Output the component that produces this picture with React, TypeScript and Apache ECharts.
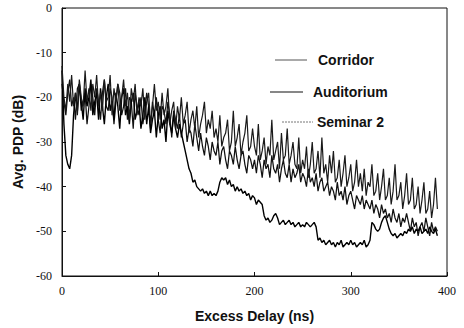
import React, { useEffect, useRef } from "react";
import * as echarts from "echarts";

// Sampling step of the delay axis (ns)
const DELAY_STEP_NS = 2;

const corridor = [
  -17, -21, -24, -19, -16, -22, -20, -25, -18, -17, -23, -21, -19, -26, -22, -17, -20, -24, -18, -21,
  -25, -19, -16, -22, -23, -18, -20, -26, -21, -17, -19, -24, -22, -18, -25, -20, -21, -27, -19, -22,
  -24, -20, -26, -23, -19, -22, -27, -21, -24, -20, -25, -28, -22, -23, -26, -21, -24, -29, -23, -25,
  -27, -24, -29, -26, -25, -30, -27, -28, -31, -26, -29, -32, -28, -31, -33, -29, -31, -34, -30, -32,
  -33, -30, -35, -32, -31, -34, -36, -32, -33, -35, -31, -34, -36, -33, -32, -35, -37, -33, -34, -36,
  -34, -37, -33, -35, -38, -34, -36, -35, -38, -33, -36, -37, -35, -39, -36, -34, -37, -38, -35, -39,
  -36, -38, -37, -35, -39, -37, -38, -40, -36, -39, -38, -40, -37, -41, -39, -38, -41, -40, -39, -42,
  -40, -41, -43, -39, -42, -41, -43, -40, -44, -42, -41, -43, -45, -42, -43, -44, -42, -45, -43, -44,
  -45, -43, -46, -44, -45, -47, -44, -46, -45, -47, -46, -48, -45, -47, -48, -46, -49, -47, -48, -46,
  -48, -50, -47, -49, -48, -51, -49, -48, -50, -47, -49, -51, -48, -50, -49, -50,
];

const auditorium = [
  -14, -26, -33, -35, -36, -33, -24, -19, -23, -17, -21, -25, -18, -22, -20, -16, -24, -21, -19, -25,
  -18, -22, -26, -20, -17, -23, -21, -25, -19, -22, -27, -20, -18, -24, -22, -26, -21, -19, -25, -23,
  -21, -27, -24, -20, -26, -22, -28, -25, -23, -29, -24, -22, -27, -25, -30, -23, -26, -28, -24, -27,
  -29, -26, -28, -30, -32, -34, -36, -37, -39, -38.5, -40, -40.5, -41, -40.5, -41.5, -41, -42, -41, -42, -41.5,
  -42, -41, -39, -38, -38.5, -38, -39.5, -38.5, -40, -39.5, -41, -40, -41, -40.5, -41.5, -41, -42, -41.5, -43, -42,
  -42.5, -44, -43, -43.5, -44, -46.5, -47.5, -47, -48, -47.5, -46.5, -46, -47, -48.5, -48, -47.5, -48.5, -48, -47.5, -48.5,
  -48, -49, -48.5, -48, -49, -48.5, -49, -48, -48.5, -49, -48.5, -48, -49, -52, -51.5, -52.5, -52, -53, -52.5, -52,
  -53, -52.5, -53.5, -52.5, -53, -52, -53.5, -53, -52.5, -53, -52, -53, -52.5, -53.5, -53, -52.5, -53, -52, -53.5, -53,
  -52, -48, -48.5, -49.5, -50, -49.5, -48, -47, -46.5, -48, -49.5, -50.5, -51, -50.5, -51.5, -51, -50.5, -51, -50, -50.5,
  -49.5, -50, -49, -50.5, -49.5, -50, -49, -50.5, -50, -49.5, -50.5, -49, -50, -50.5, -49.5, -51,
];

const seminar2 = [
  -13, -20, -23, -17, -21, -15, -22, -19, -24, -16, -20, -22, -14, -21, -18, -23, -17, -20, -15, -22,
  -19, -23, -16, -21, -20, -15, -24, -18, -21, -17, -23, -20, -16, -22, -19, -25, -18, -21, -17, -24,
  -20, -22, -18, -25, -21, -19, -26, -22, -17, -23, -21, -25, -19, -24, -22, -18, -26, -23, -21, -27,
  -22, -25, -20, -26, -24, -21, -28, -25, -23, -27, -22, -29, -26, -24, -21, -28, -25, -27, -23, -29,
  -27, -30, -24, -31, -29, -28, -25, -32, -30, -23, -31, -29, -26, -33, -30, -28, -24, -32, -31, -27,
  -31, -33, -26, -34, -32, -29, -35, -31, -33, -25, -34, -32, -30, -36, -28, -34, -33, -27, -35, -33,
  -30, -35, -36, -29, -37, -34, -36, -31, -38, -35, -30, -37, -36, -32, -38, -29, -37, -35, -39, -33,
  -37, -32, -39, -38, -34, -40, -37, -33, -40, -38, -35, -41, -39, -34, -40, -37, -41, -36, -42, -39,
  -40, -35, -42, -41, -37, -43, -40, -36, -43, -42, -38, -44, -41, -35, -43, -42, -39, -45, -42, -37,
  -44, -43, -38, -45, -44, -40, -46, -43, -39, -46, -45, -41, -47, -44, -38, -45,
];

const seriesNames = ["Corridor", "Auditorium", "Seminar 2"];
const xTicks = { min: 0, max: 400, interval: 100 };
const yTicks = { min: -60, max: 0, interval: 10 };

const toPairs = (vals: number[]) => vals.map((v, i) => [i * DELAY_STEP_NS, v]);

export default function App() {
  const ref = useRef<HTMLDivElement>(null);
  useEffect(() => {
    if (!ref.current) return;
    const chart = echarts.init(ref.current, null, { renderer: "svg" });
    const tickFont = { fontFamily: "'Liberation Serif', 'Times New Roman', serif", fontSize: 12, color: "#111" };
    const titleFont = { fontFamily: "'Liberation Sans', Arial, sans-serif", fontSize: 14, fontWeight: "bold" as const, color: "#111" };
    const axisCommon = {
      axisLine: { show: true, onZero: false, lineStyle: { color: "#111", width: 1 } },
      axisTick: { show: true, inside: true, length: 4, lineStyle: { color: "#111" } },
      splitLine: { show: false },
    };
    const legendText = { fontFamily: "'Liberation Sans', Arial, sans-serif", fontSize: 14, fontWeight: "bold", fill: "#111", verticalAlign: "middle" };
    chart.setOption({
      animation: false,
      backgroundColor: "#fff",
      grid: { left: 62, right: 17, top: 8, bottom: 50, show: true, borderColor: "#111", borderWidth: 1 },
      xAxis: {
        type: "value",
        ...xTicks,
        ...axisCommon,
        axisLabel: { ...tickFont, margin: 9 },
        name: "Excess Delay (ns)",
        nameLocation: "middle",
        nameGap: 33,
        nameTextStyle: titleFont,
      },
      yAxis: {
        type: "value",
        ...yTicks,
        ...axisCommon,
        axisLabel: { ...tickFont, margin: 10 },
        name: "Avg. PDP (dB)",
        nameLocation: "middle",
        nameGap: 37,
        nameTextStyle: titleFont,
      },
      series: [
        { name: seriesNames[0], type: "line", data: toPairs(corridor), showSymbol: false, lineStyle: { color: "#111", width: 1.25 } },
        { name: seriesNames[1], type: "line", data: toPairs(auditorium), showSymbol: false, lineStyle: { color: "#000", width: 1.4 } },
        { name: seriesNames[2], type: "line", data: toPairs(seminar2), showSymbol: false, lineStyle: { color: "#1a1a1a", width: 1.2 } },
      ],
      graphic: [
        { type: "line", shape: { x1: 275, y1: 60, x2: 307, y2: 60 }, style: { stroke: "#555", lineWidth: 1 } },
        { type: "text", x: 318, y: 60, style: { ...legendText, text: seriesNames[0] } },
        { type: "line", shape: { x1: 270, y1: 92, x2: 303, y2: 92 }, style: { stroke: "#111", lineWidth: 1.2 } },
        { type: "text", x: 313, y: 92, style: { ...legendText, text: seriesNames[1] } },
        { type: "line", shape: { x1: 282, y1: 122, x2: 313, y2: 122 }, style: { stroke: "#777", lineWidth: 1, lineDash: [2, 1] } },
        { type: "text", x: 317, y: 122, style: { ...legendText, text: seriesNames[2] } },
      ],
    });
    return () => chart.dispose();
  }, []);
  return <div ref={ref} style={{ width: 464, height: 328, position: "absolute", left: 0, top: 0 }} />;
}
